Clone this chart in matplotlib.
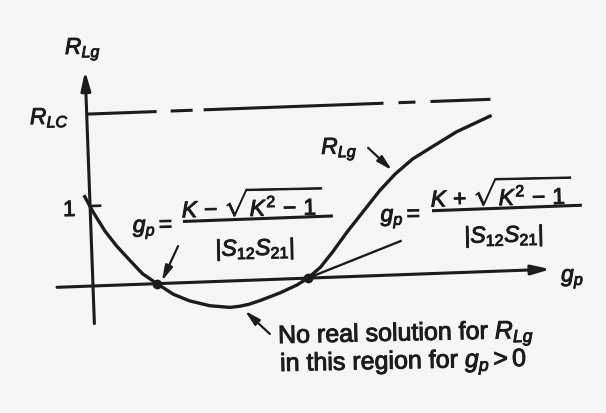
import matplotlib
matplotlib.use('Agg')
import matplotlib.pyplot as plt
import matplotlib.patheffects as pe
from matplotlib.transforms import Affine2D

plt.rcParams['font.family'] = 'Liberation Sans'
plt.rcParams['mathtext.fontset'] = 'custom'
plt.rcParams['mathtext.rm'] = 'Liberation Sans'
plt.rcParams['mathtext.it'] = 'Liberation Sans:italic'
plt.rcParams['mathtext.bf'] = 'Liberation Sans:bold'

INK = '#1c1c1c'
PAPER = '#f6f6f6'
TILT = 2.1        # the whole sketch leans a little
TEXT_TILT = 1.2
HEAVY = [pe.withStroke(linewidth=0.7, foreground=INK)]

# R_Lg as a function of g_p (arbitrary units, R_Lg = 1 at g_p = 0)
g_p = [-0.05, 0.03, 0.14, 0.25, 0.38, 0.50, 0.64, 0.80, 0.96, 1.16, 1.36,
       1.46, 1.55, 1.66, 1.87, 2.04, 2.15, 2.28, 2.41, 2.56, 2.73, 2.90,
       3.06, 3.24, 3.45, 3.69, 4.03]
r_lg = [1.12, 0.92, 0.68, 0.49, 0.30, 0.13, 0.00, -0.14, -0.23, -0.30, -0.33,
        -0.32, -0.30, -0.26, -0.17, -0.08, 0.00, 0.13, 0.32, 0.56, 0.81, 1.06,
        1.26, 1.44, 1.59, 1.76, 1.94]

r_lc = 2.15
roots = [0.64, 2.15]

# pieces of the R_LC line (long and short dashes)
rlc_pieces = [(0.0, 0.70), (0.84, 1.06), (1.17, 2.97), (3.12, 3.29), (3.44, 4.04)]

fig = plt.figure(figsize=(6.06, 4.14), dpi=100)
fig.patch.set_facecolor(PAPER)
ax = fig.add_axes([0, 0, 1, 1])
ax.set_facecolor(PAPER)
ax.set_xlim(-0.93, 5.13)
ax.set_ylim(-1.5875, 3.5875)
ax.axis('off')

ox, oy = ax.transData.transform((0, 0))
tr = ax.transData + Affine2D().rotate_deg_around(ox, oy, TILT)


def arrow(tail, head, lw=1.6, scale=13):
    ax.annotate('', xy=head, xytext=tail, xycoords=tr, textcoords=tr,
                arrowprops=dict(arrowstyle='-|>,head_length=0.7,head_width=0.18',
                                lw=lw, color=INK, mutation_scale=scale,
                                shrinkA=0, shrinkB=0))


def label(x, y, s, size, ha='left', va='baseline'):
    ax.text(x, y, s, transform=tr, fontsize=size, color=INK, ha=ha, va=va,
            rotation=TEXT_TILT, rotation_mode='anchor', path_effects=HEAVY)


# axes
arrow((-0.36, 0), (4.58, 0), lw=2.2, scale=16)
arrow((0, -0.47), (0, 2.69), lw=2.2, scale=16)
ax.plot([0, 0.10], [1, 1], color=INK, lw=1.9, transform=tr)

# R_LC level
for a, b in rlc_pieces:
    ax.plot([a, b], [r_lc, r_lc], color=INK, lw=2.2, transform=tr,
            solid_capstyle='butt')

# the load curve
ax.plot(g_p, r_lg, color=INK, lw=2.4, transform=tr, solid_joinstyle='round')
ax.plot(roots, [0, 0], 'o', color=INK, ms=6, transform=tr)

# pointers
arrow((0.865, 0.46), (0.69, 0.03))
arrow((2.80, 1.60), (3.03, 1.31))
arrow((1.75, -0.68), (1.51, -0.38))
ax.plot([roots[1], 3.09], [0, 0.42], color=INK, lw=1.7, transform=tr)

# axis labels
label(-0.195, 2.91, r'$R_{Lg}$', 16.5)
label(-0.57, 2.05, r'$R_{LC}$', 16.5)
label(-0.21, 0.885, '1', 16, ha='center')
label(4.68, -0.16, r'$g_p$', 16.5)
label(2.33, 1.545, r'$R_{Lg}$', 16.5)

# the two roots
num_minus = r'$K\,-\,\sqrt{K^2\,-\,1\,}$'
num_plus = r'$K\,+\,\sqrt{K^2\,-\,1\,}$'
den = r'$|S_{12}S_{21}|$'
for gx, bar_c, num, num_y, den_y in [(0.62, 1.673, num_minus, 0.80, 0.31),
                                     (3.10, 4.165, num_plus, 0.82, 0.36)]:
    label(gx, num_y - 0.15, r'$g_p =$', 16.5, ha='center')
    bar_y = num_y - 0.035
    ax.plot([bar_c - 0.75, bar_c + 0.75], [bar_y, bar_y], color=INK, lw=2.2,
            transform=tr, solid_capstyle='butt')
    label(bar_c - 0.04, num_y, num, 16.5, ha='center')
    label(bar_c - 0.04, den_y, den, 16.5, ha='center')

label(1.83, -0.80, r'No real solution for $R_{Lg}$', 18)
label(1.84, -1.15, r'in this region for $g_p > 0$', 18)

fig.savefig('out.png', dpi=100, facecolor=PAPER)
